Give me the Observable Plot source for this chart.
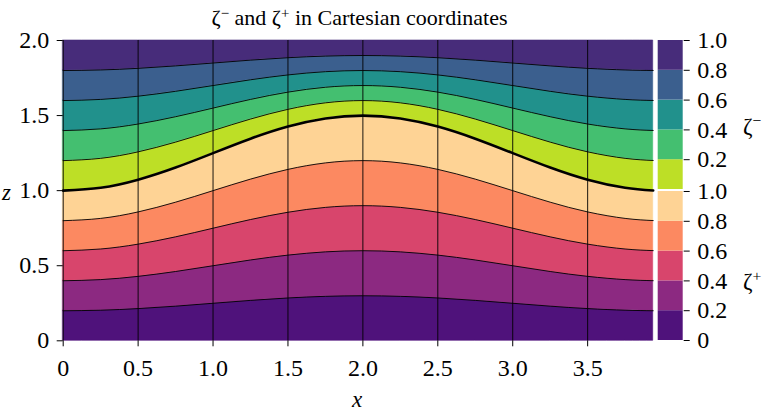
<!DOCTYPE html>
<html><head><meta charset="utf-8">
<script src="https://cdn.jsdelivr.net/npm/d3@7"></script>
<script src="https://cdn.jsdelivr.net/npm/@observablehq/plot@0.6"></script>
<style>
body{margin:0;background:#fff;}
#wrap{position:relative;width:766px;height:413px;font-family:"Liberation Serif","Times New Roman",serif;color:#000;overflow:hidden;}
#wrap svg{position:absolute;left:0;top:0;}
#wrap svg text{font-size:24px;}
.lbl{position:absolute;font-size:22px;line-height:22px;white-space:nowrap;}
.lbl sup{font-size:0.68em;vertical-align:0.5em;line-height:0;}
</style></head><body><div id="wrap"></div>
<script>
// ---- data ----
const xSamples  = [0, 0.25, 0.5, 0.75, 1.0, 1.25, 1.5, 1.75, 2.0, 2.25, 2.5, 2.75, 3.0, 3.25, 3.5, 3.75, 3.9375];
const interfaceZ = [1.0, 1.019, 1.073, 1.154, 1.25, 1.346, 1.427, 1.481, 1.5, 1.481, 1.427, 1.346, 1.25, 1.154, 1.073, 1.019, 1.001];
const zetaLevels = [0, 0.2, 0.4, 0.6, 0.8, 1.0];
const zetaPlusColors  = ["#4f127b", "#8c2981", "#d8456c", "#fc8961", "#fed395"];
const zetaMinusColors = ["#bddf26", "#44bf70", "#21918c", "#3b5f8e", "#472c7a"];
const xTicks = [0, 0.5, 1.0, 1.5, 2.0, 2.5, 3.0, 3.5];
const zTicks = [0, 0.5, 1.0, 1.5, 2.0];
const cbTickLabels = ["0", "0.2", "0.4", "0.6", "0.8", "1.0"];
const zTop = 2.0;
const xMax = 3.9375;

const fmt = d => d === 0 ? "0" : d.toFixed(1);
const FONT = {fontFamily: '"Liberation Serif","Times New Roman",serif', fontSize: "24px", background: "transparent", overflow: "visible"};

// bands between contour levels
const bands = [];
const bandKeys = [], bandColors = [];
for (let i = 0; i < zetaLevels.length - 1; i++) {
  bandKeys.push("p" + i); bandColors.push(zetaPlusColors[i]);
  bandKeys.push("m" + i); bandColors.push(zetaMinusColors[i]);
  xSamples.forEach((x, j) => {
    const h = interfaceZ[j];
    bands.push({x, y1: zetaLevels[i] * h, y2: zetaLevels[i + 1] * h, key: "p" + i});
    bands.push({x, y1: h + zetaLevels[i] * (zTop - h), y2: h + zetaLevels[i + 1] * (zTop - h), key: "m" + i});
  });
}
const contours = [];
zetaLevels.slice(1, -1).forEach(l => {
  xSamples.forEach((x, j) => {
    const h = interfaceZ[j];
    contours.push({x, y: l * h, key: "p" + l});
    contours.push({x, y: h + l * (zTop - h), key: "m" + l});
  });
});
const iface = xSamples.map((x, j) => ({x, y: interfaceZ[j]}));

const main = Plot.plot({
  width: 766, height: 413,
  marginLeft: 62.7, marginRight: 113.3, marginTop: 40, marginBottom: 72.7,
  style: FONT,
  x: {domain: [0, xMax]},
  y: {domain: [0, zTop]},
  color: {domain: bandKeys, range: bandColors},
  marks: [
    Plot.areaY(bands, {x: "x", y1: "y1", y2: "y2", z: "key", fill: "key", stroke: "key", strokeWidth: 0.6, curve: "natural"}),
    Plot.ruleX(xTicks, {stroke: "black", strokeWidth: 0.9}),
    Plot.line(contours, {x: "x", y: "y", z: "key", curve: "natural", stroke: "black", strokeWidth: 0.9}),
    Plot.line(iface, {x: "x", y: "y", curve: "natural", stroke: "black", strokeWidth: 2.6}),
    Plot.axisX({ticks: xTicks, tickFormat: fmt, tickSize: 6, tickPadding: 12, label: null}),
    Plot.axisY({ticks: zTicks, tickFormat: fmt, tickSize: 6, tickPadding: 8, label: null})
  ]
});

// colour bar: lower ζ+ in [0,1], upper ζ− offset above a small gap
const gap = 0.0134;
const cbRows = [];
for (let i = 0; i < zetaLevels.length - 1; i++) {
  cbRows.push({y1: zetaLevels[i], y2: zetaLevels[i + 1], fill: zetaPlusColors[i]});
  cbRows.push({y1: 1 + gap + zetaLevels[i], y2: 1 + gap + zetaLevels[i + 1], fill: zetaMinusColors[i]});
}
const cbTickMap = new Map();
zetaLevels.forEach((l, i) => cbTickMap.set(l, cbTickLabels[i]));
zetaLevels.slice(1).forEach((l, i) => cbTickMap.set(1 + gap + l, cbTickLabels[i + 1]));
const cbTicks = [...cbTickMap.keys()];

const bar = Plot.plot({
  width: 766, height: 413,
  marginLeft: 657.7, marginRight: 83.3, marginTop: 40, marginBottom: 73,
  style: FONT,
  x: {domain: [0, 1], axis: null},
  y: {domain: [0, 2 + gap]},
  color: {type: "identity"},
  marks: [
    Plot.rect(cbRows, {x1: d => 0, x2: d => 1, y1: "y1", y2: "y2", fill: "fill"}),
    Plot.axisY(cbTicks, {anchor: "right", tickSize: 6, tickPadding: 8, tickFormat: d => cbTickMap.get(d), label: null})
  ]
});

const wrap = document.getElementById("wrap");
wrap.appendChild(main);
wrap.appendChild(bar);
const addLabel = (html, left, top, extra) => {
  const d = document.createElement("div");
  d.className = "lbl"; d.innerHTML = html;
  d.style.left = left + "px"; d.style.top = top + "px";
  if (extra) Object.assign(d.style, extra);
  wrap.appendChild(d);
  return d;
};
addLabel("ζ<sup>−</sup> and ζ<sup>+</sup> in Cartesian coordinates", 0, 7, {width: "719px", textAlign: "center"});
addLabel("<i>x</i>", 352, 389, {fontSize: "23px"});
addLabel("<i>z</i>", 2, 182, {fontSize: "23px"});
addLabel("ζ<sup>−</sup>", 743, 116, {fontSize: "23px"});
addLabel("ζ<sup>+</sup>", 743, 271, {fontSize: "23px"});
</script>
</body></html>
